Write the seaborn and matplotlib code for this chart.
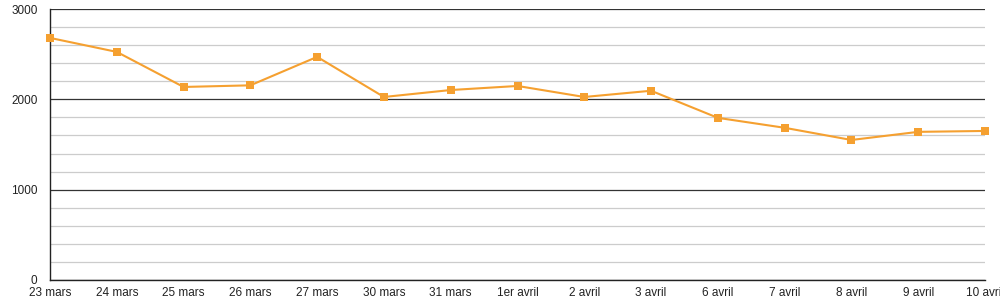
import matplotlib
matplotlib.use("Agg")
import matplotlib.pyplot as plt
from matplotlib.ticker import MultipleLocator
import seaborn as sns
import pandas as pd

dates = ["23 mars", "24 mars", "25 mars", "26 mars", "27 mars", "30 mars", "31 mars",
         "1er avril", "2 avril", "3 avril", "6 avril", "7 avril", "8 avril", "9 avril", "10 avril"]
values = [2680, 2525, 2137, 2155, 2470, 2026, 2103, 2148, 2026, 2095, 1795, 1685, 1550, 1640, 1650]

sns.set_style("white")
plt.rcParams['font.family'] = ['Liberation Sans', 'DejaVu Sans']

df = pd.DataFrame({"pos": list(range(len(dates))), "val": values})

fig = plt.figure(figsize=(10, 3), dpi=100)
ax = fig.add_axes([0.05, 20 / 300, 0.935, 271 / 300])

ax.set_ylim(0, 3000)
ax.set_xlim(0, len(dates) - 1)
ax.yaxis.set_major_locator(MultipleLocator(1000))
ax.yaxis.set_minor_locator(MultipleLocator(200))
ax.grid(True, which="major", axis="y", color="#333333", linewidth=0.9, zorder=1)
ax.grid(True, which="minor", axis="y", color="#cccccc", linewidth=0.9, zorder=1)
ax.set_axisbelow(True)

sns.lineplot(data=df, x="pos", y="val", ax=ax, color="#f5a030", linewidth=1.5,
             marker="s", markersize=6, markeredgewidth=0, zorder=3, clip_on=False)

ax.set_xticks(list(range(len(dates))))
ax.set_xticklabels(dates)
ax.set_xlabel("")
ax.set_ylabel("")
for s in ["top", "right"]:
    ax.spines[s].set_visible(False)
for s in ["left", "bottom"]:
    ax.spines[s].set_color("#222222")
    ax.spines[s].set_linewidth(1.0)
ax.tick_params(axis="both", which="major", labelsize=8.5, colors="#222222", length=4, width=0.8, pad=1)
ax.tick_params(axis="y", which="minor", length=3, width=0.8, color="#222222")
ax.tick_params(axis="y", which="major", length=0, pad=9)

fig.savefig("out.png", dpi=100, facecolor="white")
